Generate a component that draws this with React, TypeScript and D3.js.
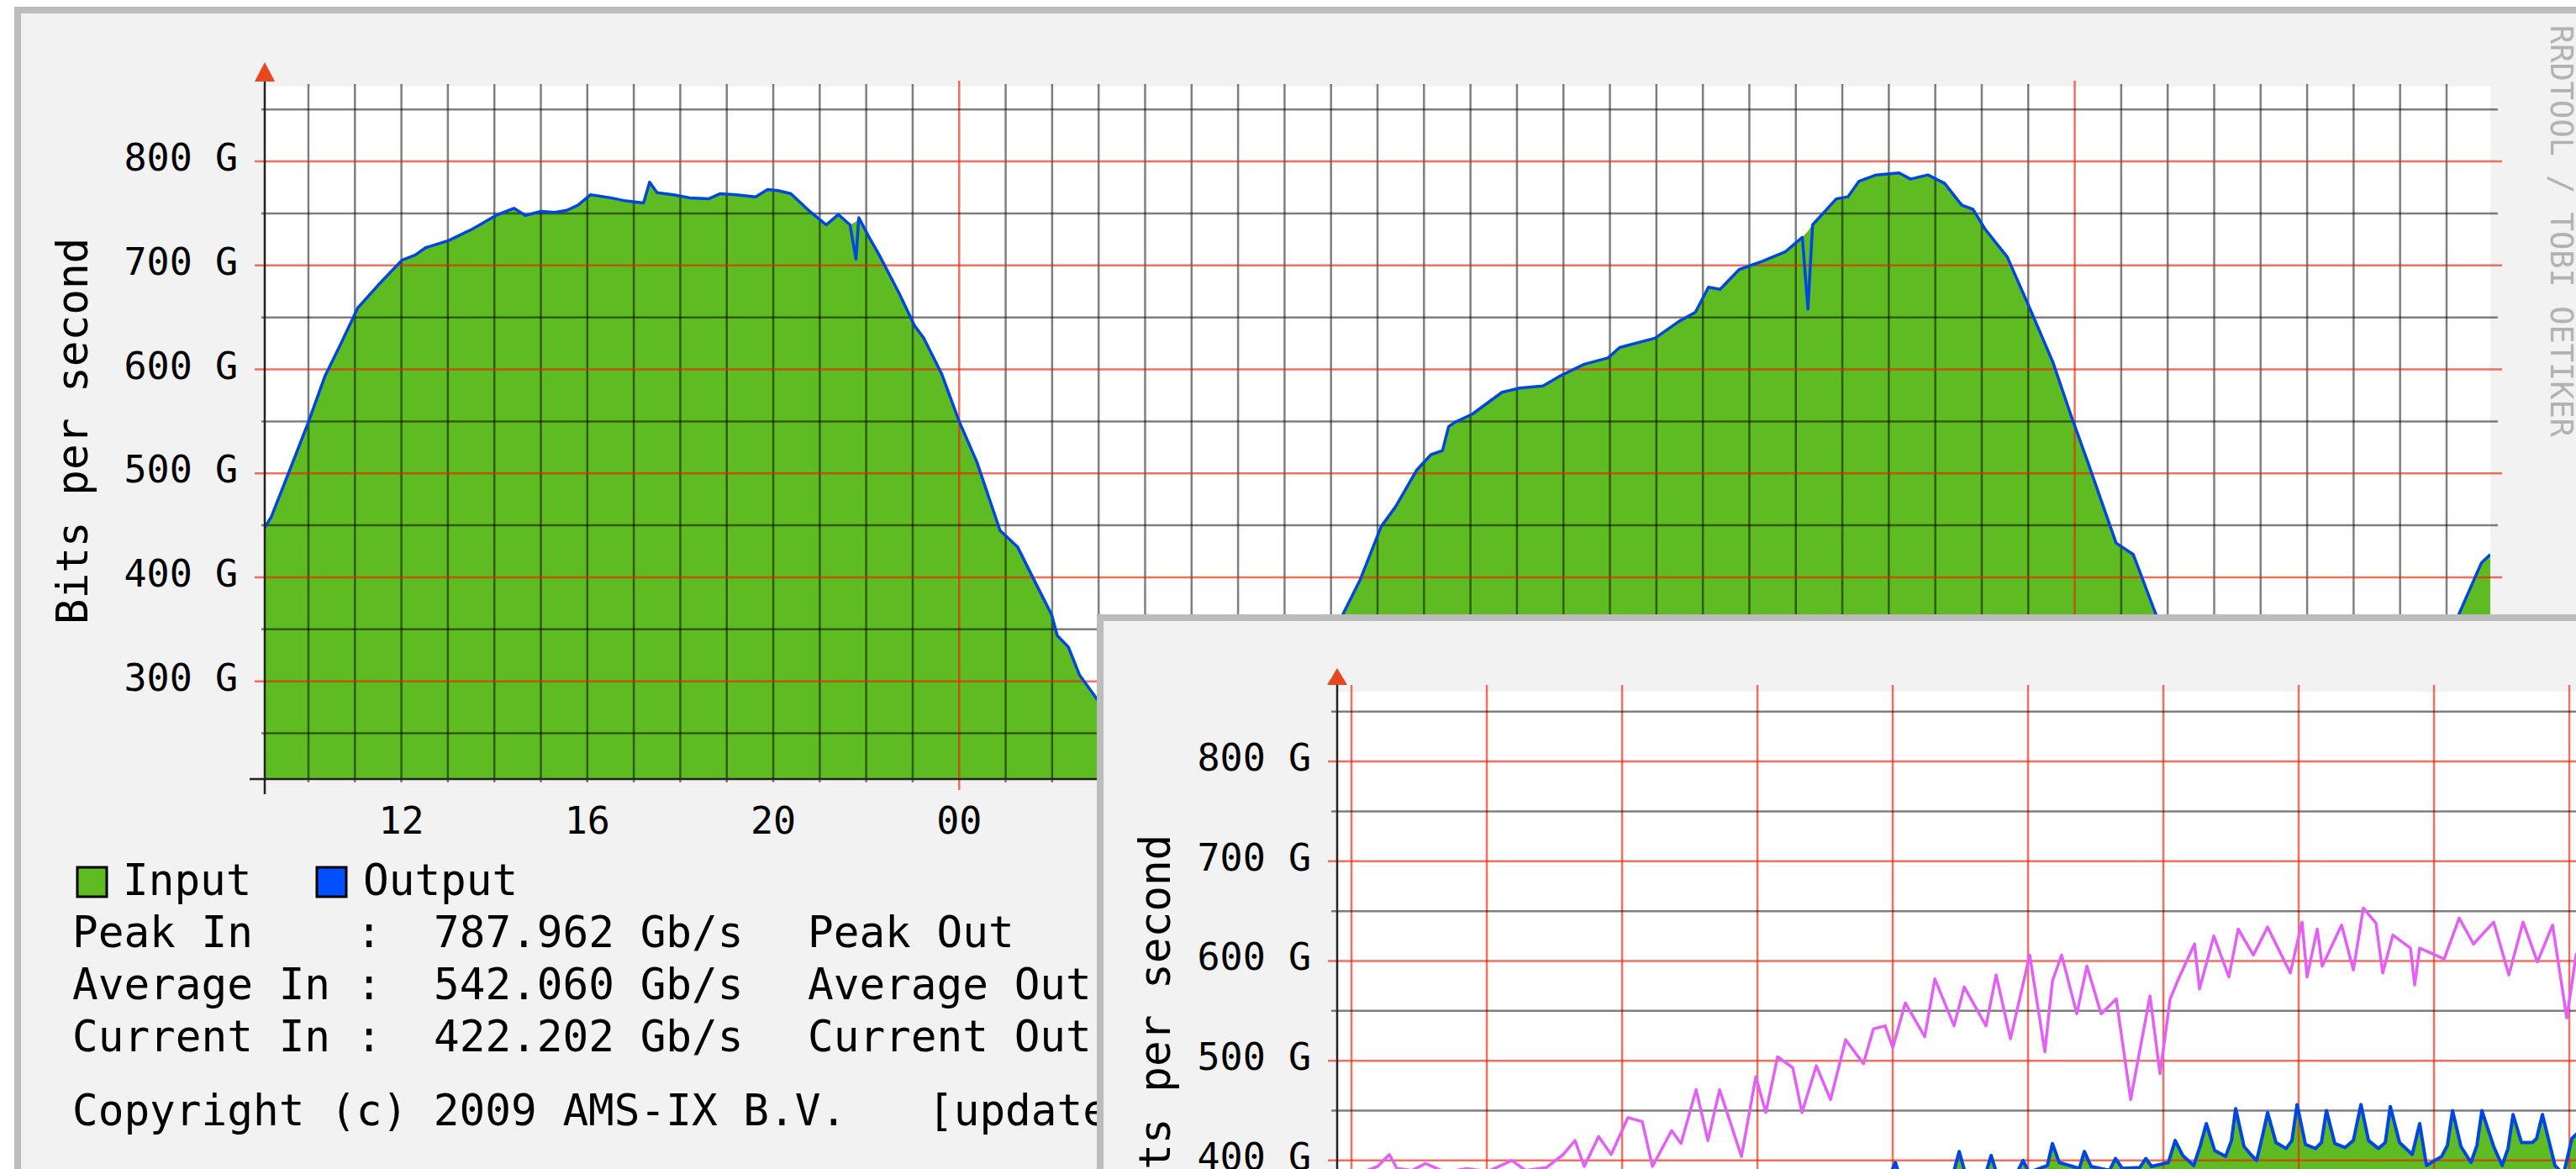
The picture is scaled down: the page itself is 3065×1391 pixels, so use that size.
import React from 'react';
import * as d3 from 'd3';

// ---- 2-day graph (hours counted from midnight of day 1) ----
const dayHours = [
  9.06, 9.2, 9.57, 9.98, 10.36, 10.68, 11.06, 11.5, 12.01, 12.3,
  12.52, 13.02, 13.3, 13.53, 14.03, 14.42, 14.67, 15.0, 15.3, 15.56,
  15.8, 16.07, 16.5, 16.83, 17.21, 17.34, 17.5, 17.85, 18.2, 18.61,
  18.86, 19.2, 19.62, 19.88, 20.1, 20.38, 20.76, 21.14, 21.4, 21.65,
  21.78, 21.84, 22.05, 22.28, 22.7, 23.04, 23.24, 23.62, 24.0, 24.38,
  24.88, 25.26, 25.65, 25.99, 26.11, 26.35, 26.59, 26.98, 27.5, 28,
  28.5, 29, 29.5, 30, 30.5, 31, 31.5, 32, 32.25, 32.63,
  33.08, 33.39, 33.84, 34.15, 34.4, 34.53, 34.66, 35.04, 35.68, 36.06,
  36.56, 36.94, 37.45, 37.96, 38.21, 38.97, 39.48, 39.84, 40.12, 40.37,
  40.78, 41.28, 41.77, 42.14, 42.26, 42.36, 42.87, 43.12, 43.36, 43.73,
  44.22, 44.47, 44.84, 45.2, 45.57, 45.81, 46.07, 46.55, 47.04, 47.53,
  47.91, 48.28, 48.89, 49.26, 49.75, 50.5, 51, 52, 53, 54,
  55, 55.7, 56.26, 56.75, 56.94,
];
const inputGbps = [
  448, 458, 500, 547, 594, 623, 659, 681, 705, 710,
  717, 724, 730, 735, 748, 755, 748, 752, 751, 753,
  758, 768, 765, 762, 760, 780, 770, 768, 765, 764,
  769, 768, 766, 773, 772, 769, 753, 739, 749, 739,
  742, 746, 728, 710, 674, 642, 630, 596, 550, 511,
  445, 429, 394, 364, 344, 333, 306, 282, 262, 245,
  232, 226, 228, 240, 262, 290, 320, 350, 364, 398,
  449, 468, 503, 518, 522, 545, 549, 557, 578, 582,
  584, 594, 605, 611, 621, 630, 646, 655, 679, 677,
  696, 704, 713, 727, 733, 739, 764, 766, 781, 787,
  789, 783, 787, 779, 758, 754, 735, 708, 658, 607,
  557, 511, 433, 422, 364, 300, 270, 238, 226, 232,
  260, 310, 364, 414, 422,
];
const outputGbps = [
  448, 458, 500, 547, 594, 623, 659, 681, 705, 710,
  717, 724, 730, 735, 748, 755, 748, 752, 751, 753,
  758, 768, 765, 762, 760, 780, 770, 768, 765, 764,
  769, 768, 766, 773, 772, 769, 753, 739, 749, 739,
  706, 746, 728, 710, 674, 642, 630, 596, 550, 511,
  445, 429, 394, 364, 344, 333, 306, 282, 262, 245,
  232, 226, 228, 240, 262, 290, 320, 350, 364, 398,
  449, 468, 503, 518, 522, 545, 549, 557, 578, 582,
  584, 594, 605, 611, 621, 630, 646, 655, 679, 677,
  696, 704, 713, 727, 658, 739, 764, 766, 781, 787,
  789, 783, 787, 779, 758, 754, 735, 708, 658, 607,
  557, 511, 433, 422, 364, 300, 270, 238, 226, 232,
  260, 310, 364, 414, 422,
];
const dayTickHours = [12, 16, 20, 24, 28, 32, 36, 40, 44, 48, 52, 56];
const dayTickLabels = ['12', '16', '20', '00', '04', '08', '12', '16', '20', '00', '04', '08'];
const valueLabels = [300, 400, 500, 600, 700, 800];

const legendNames = ['Peak In    :', 'Average In :', 'Current In :'];
const legendValues = ['787.962 Gb/s', '542.060 Gb/s', '422.202 Gb/s'];
const legendOutNames = ['Peak Out', 'Average Out', 'Current Out'];

// ---- long-term graph (months from the first month line) ----
const yearMonths = [
  -0.099, 0.571, 1.193, 1.814, 2.435, 3.056, 3.553, 3.863, 3.988, 4.019,
  4.062, 4.298, 4.453, 4.491, 4.534, 4.683, 4.727, 4.77, 4.919, 4.963,
  5.006, 5.143, 5.18, 5.23, 5.379, 5.416, 5.466, 5.602, 5.646, 5.696,
  5.826, 5.87, 5.913, 6.037, 6.087, 6.143, 6.224, 6.273, 6.317, 6.379,
  6.46, 6.503, 6.534, 6.596, 6.646, 6.689, 6.733, 6.77, 6.832, 6.907,
  6.95, 6.988, 7.05, 7.124, 7.168, 7.205, 7.267, 7.342, 7.404, 7.46,
  7.516, 7.59, 7.64, 7.677, 7.745, 7.839, 7.894, 7.944, 8.056, 8.099,
  8.137, 8.199, 8.273, 8.317, 8.354, 8.441, 8.503, 8.547, 8.584, 8.646,
  8.727, 8.758, 8.801, 8.894, 8.957, 9.019, 9.081,
];
const yearTrafficGbps = [
  300, 310, 320, 335, 345, 355, 370, 380, 388, 398,
  380, 385, 390, 409, 388, 385, 405, 386, 388, 400,
  388, 395, 417, 398, 392, 409, 394, 390, 402, 392,
  393, 402, 394, 398, 420, 405, 395, 415, 437, 410,
  404, 420, 452, 414, 406, 400, 425, 448, 418, 412,
  420, 456, 416, 412, 418, 450, 417, 413, 420, 456,
  420, 412, 418, 454, 418, 406, 437, 395, 404, 415,
  450, 414, 398, 415, 450, 414, 395, 412, 446, 418,
  418, 422, 446, 395, 386, 422, 430,
];
const yearLineMonths = [
  -0.099, 0.075, 0.193, 0.28, 0.335, 0.447, 0.547, 0.696, 0.851, 1.006,
  1.186, 1.286, 1.441, 1.565, 1.652, 1.72, 1.826, 1.919, 2.043, 2.149,
  2.224, 2.366, 2.435, 2.547, 2.634, 2.72, 2.882, 2.988, 3.062, 3.149,
  3.261, 3.329, 3.435, 3.54, 3.652, 3.783, 3.857, 3.944, 4.0, 4.093,
  4.236, 4.311, 4.453, 4.528, 4.689, 4.764, 4.87, 5.012, 5.124, 5.18,
  5.248, 5.36, 5.435, 5.54, 5.652, 5.758, 5.901, 5.975, 6.05, 6.118,
  6.23, 6.267, 6.373, 6.484, 6.553, 6.665, 6.77, 6.938, 7.025, 7.062,
  7.137, 7.174, 7.317, 7.404, 7.478, 7.571, 7.621, 7.696, 7.826, 7.857,
  7.894, 8.075, 8.186, 8.292, 8.441, 8.553, 8.658, 8.764, 8.876, 8.981,
  9.05, 9.143,
];
const yearLineGbps = [
  385, 388, 394, 406, 392, 390, 397, 388, 392, 389,
  400, 390, 393, 406, 420, 394, 424, 406, 443, 439,
  394, 430, 417, 471, 420, 471, 404, 484, 448, 504,
  493, 448, 495, 461, 521, 497, 532, 535, 513, 558,
  524, 582, 535, 574, 535, 586, 522, 606, 509, 580,
  606, 547, 595, 547, 562, 461, 565, 487, 562, 584,
  617, 572, 625, 584, 632, 606, 634, 588, 639, 584,
  632, 595, 636, 591, 653, 638, 588, 626, 613, 576,
  613, 602, 643, 617, 639, 586, 639, 599, 636, 543,
  606, 630,
];

const FONT = "'DejaVu Sans Mono', monospace";
const GREEN = '#5fbb22';
const BLUE = '#0046e0';
const MINOR = 'rgba(0,0,0,0.5)';
const MAJOR = 'rgba(235,35,10,0.65)';
const ARROW = '#e8461e';

export default function App() {
  // day graph scales
  const x1 = d3.scaleLinear().domain([9.06, 56.94]).range([315, 2963]);
  const y1 = d3.scaleLinear().domain([206, 872]).range([927, 103]);
  const area1 = d3.area<number>()
    .x((_, i) => x1(dayHours[i]))
    .y0(y1(206))
    .y1(d => y1(d));
  const line1 = d3.line<number>()
    .x((_, i) => x1(dayHours[i]))
    .y(d => y1(d));
  const hourLines = d3.range(10, 57);
  const valueLines1 = d3.range(250, 872, 50);

  // long-term graph scales
  const x2 = d3.scaleLinear().domain([-0.106, 11.894]).range([1591, 3523]);
  const y2 = d3.scaleLinear().domain([196, 870]).range([1623, 823]);
  const area2 = d3.area<number>()
    .x((_, i) => x2(yearMonths[i]))
    .y0(y2(196))
    .y1(d => y2(d));
  const line2 = d3.line<number>()
    .x((_, i) => x2(yearMonths[i]))
    .y(d => y2(d));
  const line2b = d3.line<number>()
    .x((_, i) => x2(yearLineMonths[i]))
    .y(d => y2(d));
  const monthLines = d3.range(0, 12);
  const valueLines2 = d3.range(250, 870, 50);

  return (
    <svg width={3065} height={1391} style={{ position: 'absolute', left: 0, top: 0 }}
      fontFamily={FONT}>
      <defs>
        <clipPath id="plot1"><rect x={315} y={103} width={2648} height={824} /></clipPath>
        <clipPath id="plot2"><rect x={1591} y={823} width={1932} height={800} /></clipPath>
      </defs>
      <rect x={0} y={0} width={3065} height={1391} fill="#fff" />

      {/* ---------- first panel: 2 day graph ---------- */}
      <rect x={21} y={12} width={3200} height={1600} fill="#f2f2f2" stroke="#bcbcbc" strokeWidth={8} />
      <rect x={315} y={103} width={2648} height={824} fill="#fff" />
      <path d={area1(inputGbps) || ''} fill={GREEN} clipPath="url(#plot1)" />
      {hourLines.map(h => {
        const major = h % 24 === 0;
        return (
          <line key={'h' + h} x1={x1(h)} x2={x1(h)} y1={major ? 96 : 100} y2={major ? 940 : 931}
            stroke={major ? MAJOR : MINOR} strokeWidth={2.5} />
        );
      })}
      {valueLines1.map(v => {
        const major = v % 100 === 0;
        return (
          <line key={'v' + v} x1={major ? 303 : 311} x2={major ? 2977 : 2972} y1={y1(v)} y2={y1(v)}
            stroke={major ? MAJOR : MINOR} strokeWidth={2.5} />
        );
      })}
      <path d={line1(outputGbps) || ''} fill="none" stroke={BLUE} strokeWidth={3.5}
        strokeLinejoin="round" clipPath="url(#plot1)" />
      <line x1={315} x2={315} y1={945} y2={97} stroke="#222" strokeWidth={2.5} />
      <line x1={297} x2={2990} y1={927} y2={927} stroke="#222" strokeWidth={2.5} />
      <polygon points="303,97 327,97 315,74" fill={ARROW} />
      <polygon points="2990,915 2990,939 3013,927" fill={ARROW} />
      {valueLabels.map(v => (
        <text key={'l' + v} x={283} y={y1(v) + 11} textAnchor="end" fontSize={45} fill="#000">
          {v} G
        </text>
      ))}
      {dayTickHours.map((h, i) => (
        <text key={'t' + i} x={x1(h)} y={992} textAnchor="middle" fontSize={45} fill="#000">
          {dayTickLabels[i]}
        </text>
      ))}
      <text transform="translate(104,513) rotate(-90)" textAnchor="middle" fontSize={51} fill="#000">
        Bits per second
      </text>
      <text transform="translate(3035,30) rotate(90)" fontSize={37} fill="#b2b2b2">
        RRDTOOL / TOBI OETIKER
      </text>

      {/* legend */}
      <rect x={92} y={1032} width={35} height={35} fill={GREEN} stroke="#000" strokeWidth={3} />
      <text x={146} y={1065} fontSize={51} fill="#000">Input</text>
      <rect x={377} y={1032} width={35} height={35} fill="#0050ff" stroke="#000" strokeWidth={3} />
      <text x={432} y={1065} fontSize={51} fill="#000">Output</text>
      {legendNames.map((n, i) => (
        <g key={'lg' + i}>
          <text x={86} y={1127 + i * 62} fontSize={51} fill="#000" style={{ whiteSpace: 'pre' }}>{n}</text>
          <text x={516} y={1127 + i * 62} fontSize={51} fill="#000">{legendValues[i]}</text>
          <text x={961} y={1127 + i * 62} fontSize={51} fill="#000">{legendOutNames[i]}</text>
        </g>
      ))}
      <text x={86} y={1339} fontSize={51} fill="#000">Copyright (c) 2009 AMS-IX B.V.</text>
      <text x={1104} y={1339} fontSize={51} fill="#000">[updated]</text>

      {/* ---------- second panel: long-term graph ---------- */}
      <rect x={1309} y={735} width={2000} height={1000} fill="#f2f2f2" stroke="#bcbcbc" strokeWidth={8} />
      <rect x={1591} y={823} width={1932} height={800} fill="#fff" />
      <path d={area2(yearTrafficGbps) || ''} fill={GREEN} clipPath="url(#plot2)" />
      {monthLines.map(m => (
        <line key={'m' + m} x1={x2(m)} x2={x2(m)} y1={815} y2={1640} stroke={MAJOR} strokeWidth={2.5} />
      ))}
      {valueLines2.map(v => {
        const major = v % 100 === 0;
        return (
          <line key={'w' + v} x1={major ? 1580 : 1584} x2={3540} y1={y2(v)} y2={y2(v)}
            stroke={major ? MAJOR : MINOR} strokeWidth={2.5} />
        );
      })}
      <path d={line2(yearTrafficGbps) || ''} fill="none" stroke={BLUE} strokeWidth={4}
        strokeLinejoin="round" clipPath="url(#plot2)" />
      <path d={line2b(yearLineGbps) || ''} fill="none" stroke="#e35ff5" strokeWidth={3.5}
        strokeLinejoin="round" clipPath="url(#plot2)" />
      <line x1={1591} x2={1591} y1={1640} y2={815} stroke="#222" strokeWidth={2.5} />
      <polygon points="1579,815 1603,815 1591,795" fill={ARROW} />
      {valueLabels.map(v => (
        <text key={'k' + v} x={1560} y={y2(v) + 11} textAnchor="end" fontSize={45} fill="#000">
          {v} G
        </text>
      ))}
      <text transform="translate(1392,1223) rotate(-90)" textAnchor="middle" fontSize={51} fill="#000">
        Bits per second
      </text>
    </svg>
  );
}
